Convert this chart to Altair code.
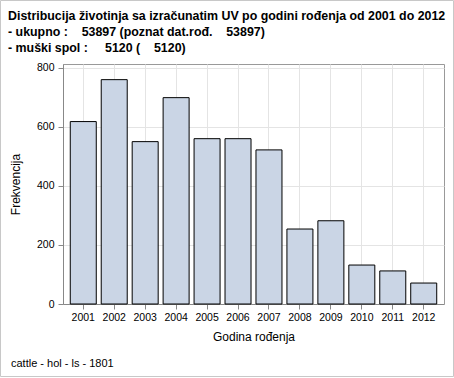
import altair as alt
import pandas as pd

years = ["2001", "2002", "2003", "2004", "2005", "2006", "2007", "2008", "2009", "2010", "2011", "2012"]
counts = [618, 760, 550, 699, 560, 560, 522, 254, 282, 132, 112, 71]

title_lines = [
    "Distribucija životinja sa izračunatim UV po godini rođenja od 2001 do 2012",
    "- ukupno :    53897 (poznat dat.rođ.    53897)",
    "- muški spol :     5120 (    5120)",
]
footnote = "cattle - hol - ls - 1801"
x_title = "Godina rođenja"
y_title = "Frekvencija"

df = pd.DataFrame({"year": years, "count": counts})

W, H = 381, 240
PL, PT, PR, PB = 63, 64, 10, 74
FONT = "Liberation Sans"

bars = alt.Chart(df).mark_bar(
    fill="#CAD5E5", stroke="black", strokeWidth=1
).encode(
    x=alt.X("year:N", sort=years, title=x_title,
            scale=alt.Scale(paddingInner=0.16, paddingOuter=0.235),
            axis=alt.Axis(labelAngle=0, grid=True, gridColor="#e4e4e4",
                          tickColor="#888", domainColor="#888", tickSize=5,
                          labelPadding=3, titlePadding=9)),
    y=alt.Y("count:Q", title=y_title,
            scale=alt.Scale(domain=[0, 813], nice=False, zero=True),
            axis=alt.Axis(values=[0, 200, 400, 600, 800], grid=True, gridColor="#e4e4e4",
                          tickColor="#888", domainColor="#888", tickSize=5,
                          labelPadding=4, titlePadding=14)),
)

title_text = "\n".join(t.replace("  ", "\u00a0\u00a0") for t in title_lines)
titles = alt.Chart(pd.DataFrame({"t": [title_text]})).mark_text(
    align="left", baseline="alphabetic", fontSize=12.4, font=FONT,
    fontWeight="bold", color="black", lineBreak="\n", lineHeight=16
).encode(x=alt.value(8 - PL), y=alt.value(20 - PT), text="t:N")

foot = alt.Chart(pd.DataFrame({"t": [footnote]})).mark_text(
    align="left", baseline="alphabetic", fontSize=11, font=FONT, color="black"
).encode(x=alt.value(11 - PL), y=alt.value(367 - PT), text="t:N")

frame = alt.Chart(pd.DataFrame({"a": [0]})).mark_rect(
    fill=None, stroke="#c8c8c8", strokeWidth=1
).encode(x=alt.value(0.5 - PL), x2=alt.value(453.5 - PL),
         y=alt.value(0.5 - PT), y2=alt.value(376.5 - PT))

chart = alt.layer(bars, titles, foot, frame).properties(
    width=W, height=H,
    autosize=alt.AutoSizeParams(type="none"),
    padding={"left": PL, "top": PT, "right": PR, "bottom": PB},
    background="white",
).configure_view(
    stroke="#999", strokeWidth=1
).configure_axis(
    labelFont=FONT, titleFont=FONT, labelFontSize=10.5, titleFontSize=12,
    titleFontWeight="normal", labelColor="black", titleColor="black"
)

chart.save("out.html", embed_options={"renderer": "svg", "actions": False})
